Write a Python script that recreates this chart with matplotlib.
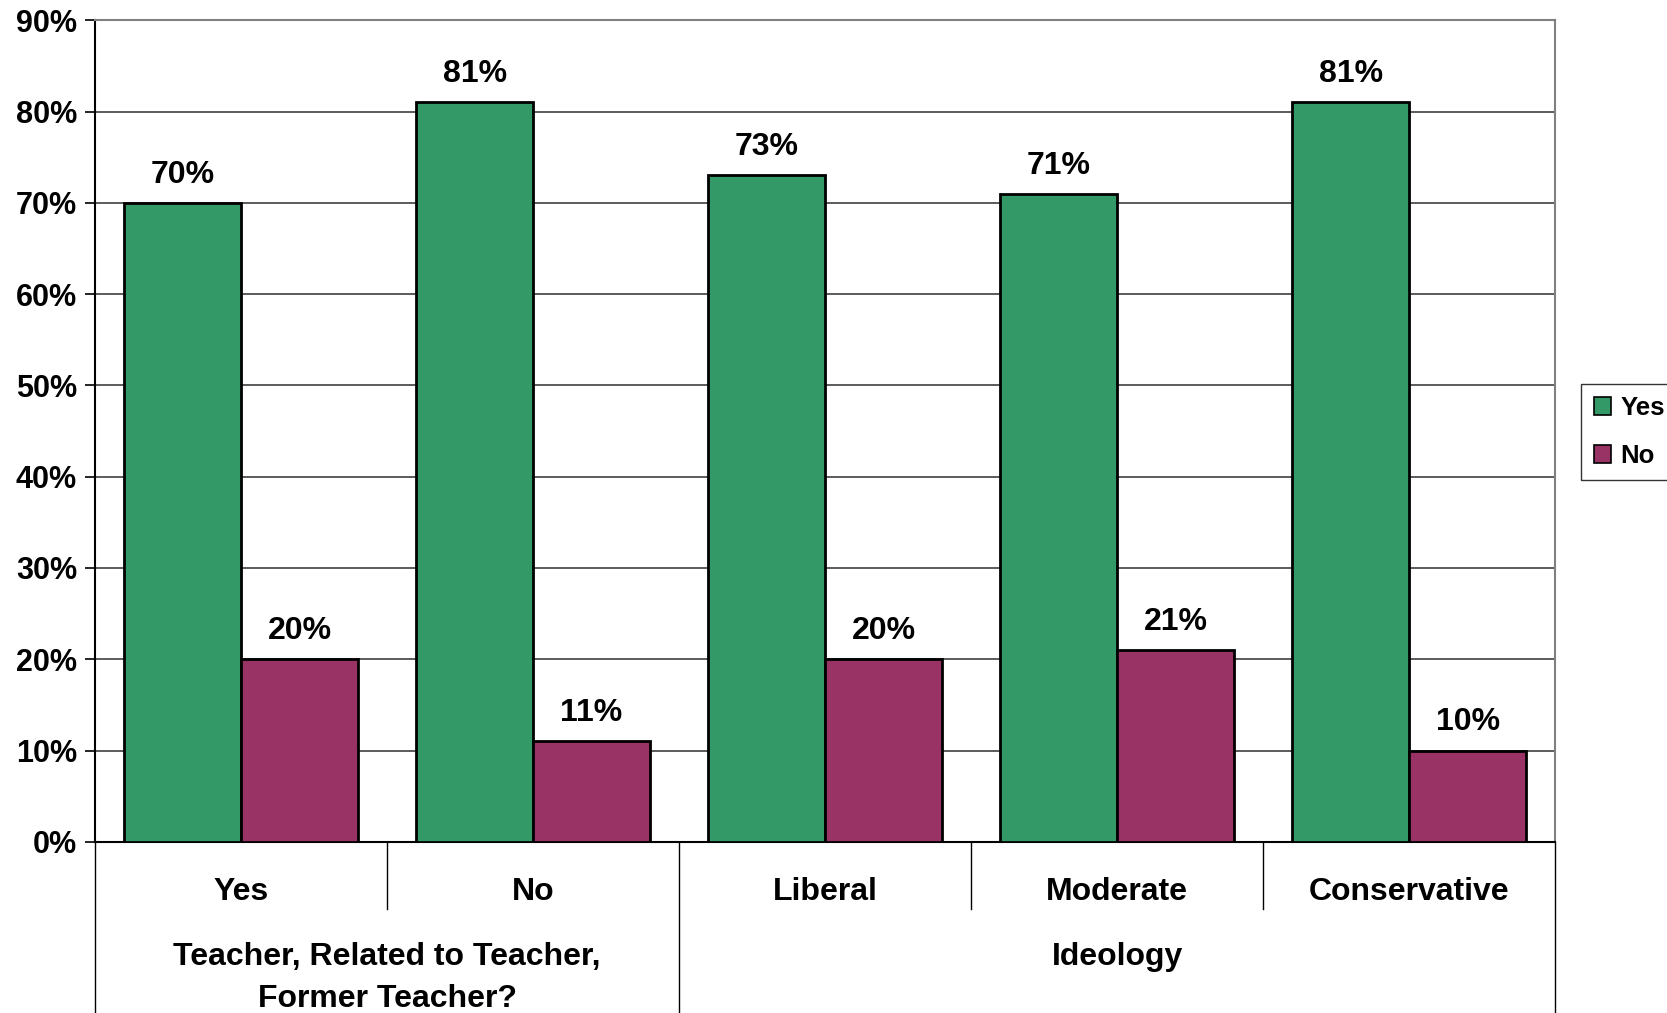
import numpy as np
import matplotlib
matplotlib.use("Agg")
import matplotlib.pyplot as plt

plt.rcParams['font.family'] = ['Liberation Sans', 'DejaVu Sans']
plt.rcParams['font.weight'] = 'bold'

# datos
categorias = ['Yes', 'No', 'Liberal', 'Moderate', 'Conservative']
grupos = ['Teacher, Related to Teacher,\nFormer Teacher?', 'Ideology']
grupo_centro = [0.5, 3.0]
si = [70, 81, 73, 71, 81]
no = [20, 11, 20, 21, 10]
yticks = [0, 10, 20, 30, 40, 50, 60, 70, 80, 90]

verde = '#339966'
morado = '#993366'

fig = plt.figure(figsize=(16.67, 10.13), dpi=100)
ax = fig.add_axes([0.057, 0.169, 0.876, 0.811])

x = np.arange(len(categorias))
w = 0.4
b1 = ax.bar(x - w / 2, si, w, color=verde, edgecolor='black', linewidth=2, label='Yes', zorder=3)
b2 = ax.bar(x + w / 2, no, w, color=morado, edgecolor='black', linewidth=2, label='No', zorder=3)

for barras in (b1, b2):
    for r in barras:
        ax.annotate(f'{r.get_height():.0f}%', (r.get_x() + r.get_width() / 2, r.get_height()),
                    xytext=(0, 14.5), textcoords='offset points', ha='center', va='baseline',
                    fontsize=23, fontweight='bold')

ax.set_xlim(-0.5, 4.5)
ax.set_ylim(0, 90)
ax.set_yticks(yticks)
ax.set_yticklabels([f'{v}%' for v in yticks], fontsize=22, fontweight='bold')
ax.tick_params(axis='y', length=7, width=1.2, pad=6)
ax.yaxis.grid(True, color='#404040', linewidth=1.2, zorder=0)
ax.set_axisbelow(True)

ax.set_xticks(x)
ax.set_xticklabels(categorias, fontsize=23, fontweight='bold')
ax.tick_params(axis='x', length=0, pad=25)

for s in ['left', 'bottom']:
    ax.spines[s].set_linewidth(1.5)
    ax.spines[s].set_color('black')
for s in ['top', 'right']:
    ax.spines[s].set_linewidth(1.5)
    ax.spines[s].set_color('#808080')

# lineas divisorias del eje x de dos niveles
tr = ax.get_xaxis_transform()
for xd in [0.5, 2.5, 3.5]:
    ax.plot([xd, xd], [0, -0.0815], transform=tr, color='black', lw=1, clip_on=False)
for xd in [-0.5, 1.5, 4.5]:
    ax.plot([xd, xd], [0, -0.25], transform=tr, color='black', lw=1, clip_on=False)

for g, c in zip(grupos, grupo_centro):
    ax.text(c, -0.122, g, transform=tr, ha='center', va='top', fontsize=23,
            fontweight='bold', linespacing=1.5)

leg = fig.legend(loc='upper left', bbox_to_anchor=(0.9405, 0.634), fontsize=18.5,
                 frameon=True, fancybox=False, edgecolor='black', handlelength=0.7,
                 handleheight=0.7, handletextpad=0.35, borderpad=0.5, labelspacing=0.9)
leg.get_frame().set_linewidth(1)
for h in leg.legend_handles:
    h.set_linewidth(1.2)

fig.savefig('out.png', dpi=100)
